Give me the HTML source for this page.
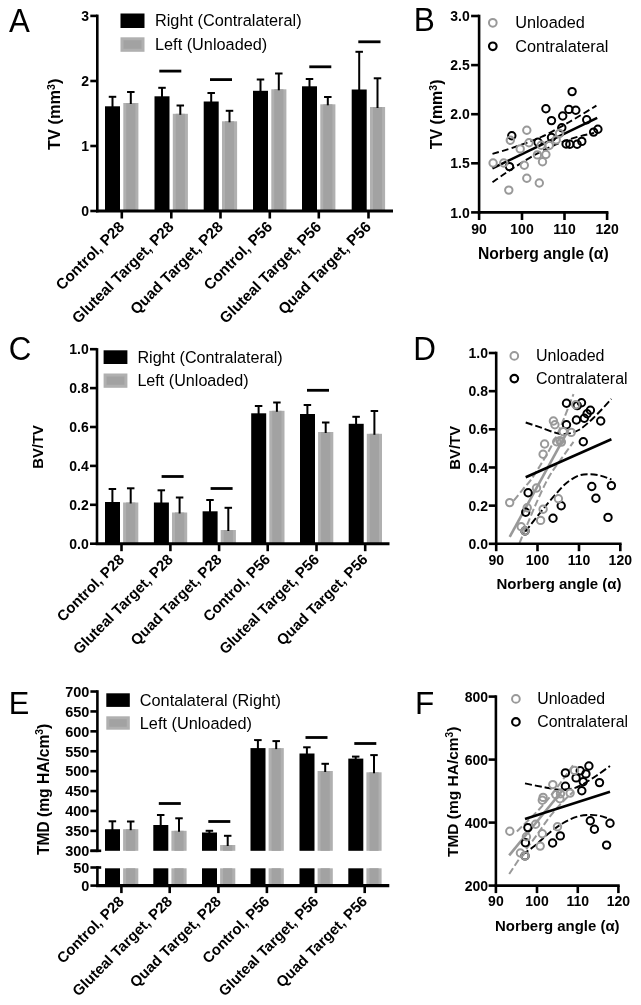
<!DOCTYPE html>
<html><head><meta charset="utf-8"><title>Figure</title>
<style>
html,body{margin:0;padding:0;background:#fff;}
body{width:641px;height:1005px;overflow:hidden;font-family:"Liberation Sans",sans-serif;}
svg{display:block;filter:grayscale(1);}
svg text{font-family:"Liberation Sans",sans-serif;fill:#000;}
</style></head>
<body>
<svg width="641" height="1005" viewBox="0 0 641 1005">
<rect x="0" y="0" width="641" height="1005" fill="#fff"/>
<text transform="matrix(0.3122 0 0 0.3285 9.04 31.50)" x="0" y="0" font-size="100" font-weight="normal">A</text>
<rect x="105.00" y="106.30" width="15.00" height="104.70" fill="#000"/>
<line x1="112.50" y1="96.80" x2="112.50" y2="107.30" stroke="#000" stroke-width="2.0" />
<line x1="108.75" y1="96.80" x2="116.25" y2="96.80" stroke="#000" stroke-width="2.0" />
<rect x="123.30" y="103.00" width="15.10" height="108.00" fill="#b0b0b0"/>
<rect x="126.30" y="103.00" width="9.10" height="108.00" fill="#a2a2a2"/>
<line x1="130.80" y1="92.00" x2="130.80" y2="104.00" stroke="#000" stroke-width="2.0" />
<line x1="127.05" y1="92.00" x2="134.55" y2="92.00" stroke="#000" stroke-width="2.0" />
<rect x="154.50" y="96.30" width="15.00" height="114.70" fill="#000"/>
<line x1="162.00" y1="87.80" x2="162.00" y2="97.30" stroke="#000" stroke-width="2.0" />
<line x1="158.25" y1="87.80" x2="165.75" y2="87.80" stroke="#000" stroke-width="2.0" />
<rect x="172.80" y="113.80" width="15.10" height="97.20" fill="#b0b0b0"/>
<rect x="175.80" y="113.80" width="9.10" height="97.20" fill="#a2a2a2"/>
<line x1="180.30" y1="105.50" x2="180.30" y2="114.80" stroke="#000" stroke-width="2.0" />
<line x1="176.55" y1="105.50" x2="184.05" y2="105.50" stroke="#000" stroke-width="2.0" />
<rect x="203.70" y="101.50" width="15.00" height="109.50" fill="#000"/>
<line x1="211.20" y1="93.00" x2="211.20" y2="102.50" stroke="#000" stroke-width="2.0" />
<line x1="207.45" y1="93.00" x2="214.95" y2="93.00" stroke="#000" stroke-width="2.0" />
<rect x="222.00" y="121.30" width="15.10" height="89.70" fill="#b0b0b0"/>
<rect x="225.00" y="121.30" width="9.10" height="89.70" fill="#a2a2a2"/>
<line x1="229.50" y1="110.80" x2="229.50" y2="122.30" stroke="#000" stroke-width="2.0" />
<line x1="225.75" y1="110.80" x2="233.25" y2="110.80" stroke="#000" stroke-width="2.0" />
<rect x="253.00" y="90.80" width="15.00" height="120.20" fill="#000"/>
<line x1="260.50" y1="79.50" x2="260.50" y2="91.80" stroke="#000" stroke-width="2.0" />
<line x1="256.75" y1="79.50" x2="264.25" y2="79.50" stroke="#000" stroke-width="2.0" />
<rect x="271.30" y="89.30" width="15.10" height="121.70" fill="#b0b0b0"/>
<rect x="274.30" y="89.30" width="9.10" height="121.70" fill="#a2a2a2"/>
<line x1="278.80" y1="73.50" x2="278.80" y2="90.30" stroke="#000" stroke-width="2.0" />
<line x1="275.05" y1="73.50" x2="282.55" y2="73.50" stroke="#000" stroke-width="2.0" />
<rect x="302.00" y="86.30" width="15.00" height="124.70" fill="#000"/>
<line x1="309.50" y1="79.00" x2="309.50" y2="87.30" stroke="#000" stroke-width="2.0" />
<line x1="305.75" y1="79.00" x2="313.25" y2="79.00" stroke="#000" stroke-width="2.0" />
<rect x="320.30" y="104.30" width="15.10" height="106.70" fill="#b0b0b0"/>
<rect x="323.30" y="104.30" width="9.10" height="106.70" fill="#a2a2a2"/>
<line x1="327.80" y1="97.00" x2="327.80" y2="105.30" stroke="#000" stroke-width="2.0" />
<line x1="324.05" y1="97.00" x2="331.55" y2="97.00" stroke="#000" stroke-width="2.0" />
<rect x="351.70" y="89.50" width="15.00" height="121.50" fill="#000"/>
<line x1="359.20" y1="51.80" x2="359.20" y2="90.50" stroke="#000" stroke-width="2.0" />
<line x1="355.45" y1="51.80" x2="362.95" y2="51.80" stroke="#000" stroke-width="2.0" />
<rect x="370.00" y="107.00" width="15.10" height="104.00" fill="#b0b0b0"/>
<rect x="373.00" y="107.00" width="9.10" height="104.00" fill="#a2a2a2"/>
<line x1="377.50" y1="78.30" x2="377.50" y2="108.00" stroke="#000" stroke-width="2.0" />
<line x1="373.75" y1="78.30" x2="381.25" y2="78.30" stroke="#000" stroke-width="2.0" />
<line x1="159.30" y1="71.10" x2="181.30" y2="71.10" stroke="#000" stroke-width="2.8" />
<line x1="210.00" y1="79.60" x2="232.00" y2="79.60" stroke="#000" stroke-width="2.8" />
<line x1="309.30" y1="66.80" x2="331.30" y2="66.80" stroke="#000" stroke-width="2.8" />
<line x1="358.30" y1="41.80" x2="380.50" y2="41.80" stroke="#000" stroke-width="2.8" />
<line x1="97.30" y1="14.60" x2="97.30" y2="212.30" stroke="#000" stroke-width="2.6" />
<line x1="96.00" y1="211.00" x2="393.00" y2="211.00" stroke="#000" stroke-width="3.1" />
<line x1="90.30" y1="211.00" x2="97.30" y2="211.00" stroke="#000" stroke-width="2.6" />
<text x="89.10" y="216.10" font-size="14" font-weight="bold" text-anchor="end" >0</text>
<line x1="90.30" y1="146.00" x2="97.30" y2="146.00" stroke="#000" stroke-width="2.6" />
<text x="89.10" y="151.10" font-size="14" font-weight="bold" text-anchor="end" >1</text>
<line x1="90.30" y1="81.00" x2="97.30" y2="81.00" stroke="#000" stroke-width="2.6" />
<text x="89.10" y="86.10" font-size="14" font-weight="bold" text-anchor="end" >2</text>
<line x1="90.30" y1="15.90" x2="97.30" y2="15.90" stroke="#000" stroke-width="2.6" />
<text x="89.10" y="21.00" font-size="14" font-weight="bold" text-anchor="end" >3</text>
<line x1="121.80" y1="211.00" x2="121.80" y2="218.50" stroke="#000" stroke-width="2.6" />
<text x="125.30" y="227.70" font-size="15.2" font-weight="bold" text-anchor="end" transform="rotate(-45 125.30 227.70)" >Control, P28</text>
<line x1="171.30" y1="211.00" x2="171.30" y2="218.50" stroke="#000" stroke-width="2.6" />
<text x="174.80" y="227.70" font-size="15.2" font-weight="bold" text-anchor="end" transform="rotate(-45 174.80 227.70)" >Gluteal Target, P28</text>
<line x1="220.50" y1="211.00" x2="220.50" y2="218.50" stroke="#000" stroke-width="2.6" />
<text x="224.00" y="227.70" font-size="15.2" font-weight="bold" text-anchor="end" transform="rotate(-45 224.00 227.70)" >Quad Target, P28</text>
<line x1="269.80" y1="211.00" x2="269.80" y2="218.50" stroke="#000" stroke-width="2.6" />
<text x="273.30" y="227.70" font-size="15.2" font-weight="bold" text-anchor="end" transform="rotate(-45 273.30 227.70)" >Control, P56</text>
<line x1="318.80" y1="211.00" x2="318.80" y2="218.50" stroke="#000" stroke-width="2.6" />
<text x="322.30" y="227.70" font-size="15.2" font-weight="bold" text-anchor="end" transform="rotate(-45 322.30 227.70)" >Gluteal Target, P56</text>
<line x1="368.50" y1="211.00" x2="368.50" y2="218.50" stroke="#000" stroke-width="2.6" />
<text x="372.00" y="227.70" font-size="15.2" font-weight="bold" text-anchor="end" transform="rotate(-45 372.00 227.70)" >Quad Target, P56</text>
<text x="60.40" y="114.30" font-size="16.4" font-weight="bold" text-anchor="middle" transform="rotate(-90 60.40 114.30)" >TV (mm<tspan font-size="10.7" dy="-5.6">3</tspan><tspan dy="5.6">)</tspan></text>
<rect x="120.50" y="13.50" width="24.00" height="14.50" fill="#000"/>
<rect x="120.50" y="37.30" width="24.00" height="14.50" fill="#b0b0b0"/>
<rect x="123.50" y="40.30" width="18.00" height="8.50" fill="#a2a2a2"/>
<text x="155.00" y="26.20" font-size="16.3" font-weight="normal" text-anchor="start" >Right (Contralateral)</text>
<text x="155.00" y="49.80" font-size="16.3" font-weight="normal" text-anchor="start" >Left (Unloaded)</text>
<text transform="matrix(0.3157 0 0 0.3270 413.81 31.40)" x="0" y="0" font-size="100" font-weight="normal">B</text>
<path d="M492.40,168.40 L597.20,117.80" fill="none" stroke="#000" stroke-width="2.6"/>
<path d="M492.50,153.80 C495.92,152.77 504.88,150.40 513.00,147.60 C521.12,144.80 531.82,141.27 541.20,137.00 C550.58,132.73 560.10,127.23 569.30,122.00 C578.50,116.77 591.88,108.33 596.40,105.60" fill="none" stroke="#000" stroke-width="1.9" stroke-dasharray="6.7 3.3"/>
<path d="M492.50,182.20 C495.92,179.87 504.88,173.33 513.00,168.20 C521.12,163.07 531.82,156.20 541.20,151.40 C550.58,146.60 560.50,142.47 569.30,139.40 C578.10,136.33 589.88,134.07 594.00,133.00" fill="none" stroke="#000" stroke-width="1.9" stroke-dasharray="6.7 3.3"/>
<circle cx="572.10" cy="91.60" r="3.7" fill="none" stroke="#000" stroke-width="2.0"/>
<circle cx="545.90" cy="108.70" r="3.7" fill="none" stroke="#000" stroke-width="2.0"/>
<circle cx="568.90" cy="109.40" r="3.7" fill="none" stroke="#000" stroke-width="2.0"/>
<circle cx="575.80" cy="110.30" r="3.7" fill="none" stroke="#000" stroke-width="2.0"/>
<circle cx="562.70" cy="116.00" r="3.7" fill="none" stroke="#000" stroke-width="2.0"/>
<circle cx="551.50" cy="120.60" r="3.7" fill="none" stroke="#000" stroke-width="2.0"/>
<circle cx="586.70" cy="119.70" r="3.7" fill="none" stroke="#000" stroke-width="2.0"/>
<circle cx="561.80" cy="127.80" r="3.7" fill="none" stroke="#000" stroke-width="2.0"/>
<circle cx="597.90" cy="129.30" r="3.7" fill="none" stroke="#000" stroke-width="2.0"/>
<circle cx="593.60" cy="132.10" r="3.7" fill="none" stroke="#000" stroke-width="2.0"/>
<circle cx="511.80" cy="135.80" r="3.7" fill="none" stroke="#000" stroke-width="2.0"/>
<circle cx="551.50" cy="137.50" r="3.7" fill="none" stroke="#000" stroke-width="2.0"/>
<circle cx="538.00" cy="142.20" r="3.7" fill="none" stroke="#000" stroke-width="2.0"/>
<circle cx="566.10" cy="144.00" r="3.7" fill="none" stroke="#000" stroke-width="2.0"/>
<circle cx="569.80" cy="144.20" r="3.7" fill="none" stroke="#000" stroke-width="2.0"/>
<circle cx="577.10" cy="144.20" r="3.7" fill="none" stroke="#000" stroke-width="2.0"/>
<circle cx="581.80" cy="141.40" r="3.7" fill="none" stroke="#000" stroke-width="2.0"/>
<circle cx="509.50" cy="166.60" r="3.7" fill="none" stroke="#000" stroke-width="2.0"/>
<circle cx="526.80" cy="130.20" r="3.7" fill="none" stroke="#999999" stroke-width="2.0"/>
<circle cx="510.30" cy="140.30" r="3.7" fill="none" stroke="#999999" stroke-width="2.0"/>
<circle cx="529.00" cy="142.70" r="3.7" fill="none" stroke="#999999" stroke-width="2.0"/>
<circle cx="559.50" cy="133.40" r="3.7" fill="none" stroke="#999999" stroke-width="2.0"/>
<circle cx="556.20" cy="139.90" r="3.7" fill="none" stroke="#999999" stroke-width="2.0"/>
<circle cx="549.20" cy="145.50" r="3.7" fill="none" stroke="#999999" stroke-width="2.0"/>
<circle cx="541.20" cy="145.20" r="3.7" fill="none" stroke="#999999" stroke-width="2.0"/>
<circle cx="520.20" cy="148.90" r="3.7" fill="none" stroke="#999999" stroke-width="2.0"/>
<circle cx="537.40" cy="154.90" r="3.7" fill="none" stroke="#999999" stroke-width="2.0"/>
<circle cx="545.90" cy="154.50" r="3.7" fill="none" stroke="#999999" stroke-width="2.0"/>
<circle cx="493.10" cy="163.00" r="3.7" fill="none" stroke="#999999" stroke-width="2.0"/>
<circle cx="524.30" cy="165.20" r="3.7" fill="none" stroke="#999999" stroke-width="2.0"/>
<circle cx="542.50" cy="161.80" r="3.7" fill="none" stroke="#999999" stroke-width="2.0"/>
<circle cx="526.80" cy="178.30" r="3.7" fill="none" stroke="#999999" stroke-width="2.0"/>
<circle cx="539.30" cy="183.00" r="3.7" fill="none" stroke="#999999" stroke-width="2.0"/>
<circle cx="508.80" cy="190.10" r="3.7" fill="none" stroke="#999999" stroke-width="2.0"/>
<circle cx="503.70" cy="163.00" r="3.7" fill="none" stroke="#999999" stroke-width="2.0"/>
<line x1="479.10" y1="14.70" x2="479.10" y2="213.70" stroke="#000" stroke-width="2.6" />
<line x1="477.80" y1="212.40" x2="608.40" y2="212.40" stroke="#000" stroke-width="2.6" />
<line x1="471.10" y1="212.40" x2="479.10" y2="212.40" stroke="#000" stroke-width="2.6" />
<text x="469.80" y="217.50" font-size="14" font-weight="bold" text-anchor="end" >1.0</text>
<line x1="471.10" y1="163.30" x2="479.10" y2="163.30" stroke="#000" stroke-width="2.6" />
<text x="469.80" y="168.40" font-size="14" font-weight="bold" text-anchor="end" >1.5</text>
<line x1="471.10" y1="114.20" x2="479.10" y2="114.20" stroke="#000" stroke-width="2.6" />
<text x="469.80" y="119.30" font-size="14" font-weight="bold" text-anchor="end" >2.0</text>
<line x1="471.10" y1="65.10" x2="479.10" y2="65.10" stroke="#000" stroke-width="2.6" />
<text x="469.80" y="70.20" font-size="14" font-weight="bold" text-anchor="end" >2.5</text>
<line x1="471.10" y1="16.00" x2="479.10" y2="16.00" stroke="#000" stroke-width="2.6" />
<text x="469.80" y="21.10" font-size="14" font-weight="bold" text-anchor="end" >3.0</text>
<line x1="479.10" y1="212.40" x2="479.10" y2="220.00" stroke="#000" stroke-width="2.6" />
<text x="479.10" y="233.80" font-size="14" font-weight="bold" text-anchor="middle" >90</text>
<line x1="522.00" y1="212.40" x2="522.00" y2="220.00" stroke="#000" stroke-width="2.6" />
<text x="522.00" y="233.80" font-size="14" font-weight="bold" text-anchor="middle" >100</text>
<line x1="564.50" y1="212.40" x2="564.50" y2="220.00" stroke="#000" stroke-width="2.6" />
<text x="564.50" y="233.80" font-size="14" font-weight="bold" text-anchor="middle" >110</text>
<line x1="607.10" y1="212.40" x2="607.10" y2="220.00" stroke="#000" stroke-width="2.6" />
<text x="607.10" y="233.80" font-size="14" font-weight="bold" text-anchor="middle" >120</text>
<text x="543.30" y="259.40" font-size="15.7" font-weight="bold" text-anchor="middle" >Norberg angle (α)</text>
<text x="442.30" y="114.40" font-size="16" font-weight="bold" text-anchor="middle" transform="rotate(-90 442.30 114.40)" >TV (mm<tspan font-size="10.5" dy="-5.5">3</tspan><tspan dy="5.5">)</tspan></text>
<circle cx="492.80" cy="22.80" r="3.85" fill="none" stroke="#999999" stroke-width="2.0"/>
<circle cx="492.80" cy="46.30" r="3.8" fill="none" stroke="#000" stroke-width="2.15"/>
<text x="515.20" y="28.40" font-size="16.3" font-weight="normal" text-anchor="start" >Unloaded</text>
<text x="515.20" y="52.00" font-size="16.3" font-weight="normal" text-anchor="start" >Contralateral</text>
<text transform="matrix(0.3126 0 0 0.3249 8.71 359.68)" x="0" y="0" font-size="100" font-weight="normal">C</text>
<rect x="105.00" y="502.00" width="15.00" height="41.70" fill="#000"/>
<line x1="112.40" y1="489.00" x2="112.40" y2="503.00" stroke="#000" stroke-width="2.0" />
<line x1="108.65" y1="489.00" x2="116.15" y2="489.00" stroke="#000" stroke-width="2.0" />
<rect x="123.10" y="502.50" width="15.20" height="41.20" fill="#b0b0b0"/>
<rect x="126.10" y="502.50" width="9.20" height="41.20" fill="#a2a2a2"/>
<line x1="130.70" y1="488.30" x2="130.70" y2="503.50" stroke="#000" stroke-width="2.0" />
<line x1="126.95" y1="488.30" x2="134.45" y2="488.30" stroke="#000" stroke-width="2.0" />
<rect x="153.90" y="502.50" width="15.00" height="41.20" fill="#000"/>
<line x1="161.30" y1="490.30" x2="161.30" y2="503.50" stroke="#000" stroke-width="2.0" />
<line x1="157.55" y1="490.30" x2="165.05" y2="490.30" stroke="#000" stroke-width="2.0" />
<rect x="172.00" y="512.50" width="15.20" height="31.20" fill="#b0b0b0"/>
<rect x="175.00" y="512.50" width="9.20" height="31.20" fill="#a2a2a2"/>
<line x1="179.60" y1="497.50" x2="179.60" y2="513.50" stroke="#000" stroke-width="2.0" />
<line x1="175.85" y1="497.50" x2="183.35" y2="497.50" stroke="#000" stroke-width="2.0" />
<rect x="202.60" y="511.30" width="15.00" height="32.40" fill="#000"/>
<line x1="210.00" y1="500.00" x2="210.00" y2="512.30" stroke="#000" stroke-width="2.0" />
<line x1="206.25" y1="500.00" x2="213.75" y2="500.00" stroke="#000" stroke-width="2.0" />
<rect x="220.70" y="530.00" width="15.20" height="13.70" fill="#b0b0b0"/>
<rect x="223.70" y="530.00" width="9.20" height="13.70" fill="#a2a2a2"/>
<line x1="228.30" y1="507.80" x2="228.30" y2="531.00" stroke="#000" stroke-width="2.0" />
<line x1="224.55" y1="507.80" x2="232.05" y2="507.80" stroke="#000" stroke-width="2.0" />
<rect x="251.20" y="413.30" width="15.00" height="130.40" fill="#000"/>
<line x1="258.60" y1="406.00" x2="258.60" y2="414.30" stroke="#000" stroke-width="2.0" />
<line x1="254.85" y1="406.00" x2="262.35" y2="406.00" stroke="#000" stroke-width="2.0" />
<rect x="269.30" y="410.80" width="15.20" height="132.90" fill="#b0b0b0"/>
<rect x="272.30" y="410.80" width="9.20" height="132.90" fill="#a2a2a2"/>
<line x1="276.90" y1="402.50" x2="276.90" y2="411.80" stroke="#000" stroke-width="2.0" />
<line x1="273.15" y1="402.50" x2="280.65" y2="402.50" stroke="#000" stroke-width="2.0" />
<rect x="300.00" y="414.00" width="15.00" height="129.70" fill="#000"/>
<line x1="307.40" y1="405.00" x2="307.40" y2="415.00" stroke="#000" stroke-width="2.0" />
<line x1="303.65" y1="405.00" x2="311.15" y2="405.00" stroke="#000" stroke-width="2.0" />
<rect x="318.10" y="432.00" width="15.20" height="111.70" fill="#b0b0b0"/>
<rect x="321.10" y="432.00" width="9.20" height="111.70" fill="#a2a2a2"/>
<line x1="325.70" y1="422.50" x2="325.70" y2="433.00" stroke="#000" stroke-width="2.0" />
<line x1="321.95" y1="422.50" x2="329.45" y2="422.50" stroke="#000" stroke-width="2.0" />
<rect x="348.70" y="423.80" width="15.00" height="119.90" fill="#000"/>
<line x1="356.10" y1="416.80" x2="356.10" y2="424.80" stroke="#000" stroke-width="2.0" />
<line x1="352.35" y1="416.80" x2="359.85" y2="416.80" stroke="#000" stroke-width="2.0" />
<rect x="366.80" y="433.80" width="15.20" height="109.90" fill="#b0b0b0"/>
<rect x="369.80" y="433.80" width="9.20" height="109.90" fill="#a2a2a2"/>
<line x1="374.40" y1="411.00" x2="374.40" y2="434.80" stroke="#000" stroke-width="2.0" />
<line x1="370.65" y1="411.00" x2="378.15" y2="411.00" stroke="#000" stroke-width="2.0" />
<line x1="161.60" y1="476.50" x2="183.60" y2="476.50" stroke="#000" stroke-width="2.8" />
<line x1="210.60" y1="488.50" x2="232.60" y2="488.50" stroke="#000" stroke-width="2.8" />
<line x1="307.00" y1="390.30" x2="329.00" y2="390.30" stroke="#000" stroke-width="2.8" />
<line x1="97.00" y1="348.10" x2="97.00" y2="545.00" stroke="#000" stroke-width="2.6" />
<line x1="95.70" y1="543.70" x2="389.50" y2="543.70" stroke="#000" stroke-width="3.1" />
<line x1="90.00" y1="543.70" x2="97.00" y2="543.70" stroke="#000" stroke-width="2.6" />
<text x="88.80" y="548.80" font-size="14" font-weight="bold" text-anchor="end" >0.0</text>
<line x1="90.00" y1="504.80" x2="97.00" y2="504.80" stroke="#000" stroke-width="2.6" />
<text x="88.80" y="509.90" font-size="14" font-weight="bold" text-anchor="end" >0.2</text>
<line x1="90.00" y1="465.90" x2="97.00" y2="465.90" stroke="#000" stroke-width="2.6" />
<text x="88.80" y="471.00" font-size="14" font-weight="bold" text-anchor="end" >0.4</text>
<line x1="90.00" y1="427.00" x2="97.00" y2="427.00" stroke="#000" stroke-width="2.6" />
<text x="88.80" y="432.10" font-size="14" font-weight="bold" text-anchor="end" >0.6</text>
<line x1="90.00" y1="388.10" x2="97.00" y2="388.10" stroke="#000" stroke-width="2.6" />
<text x="88.80" y="393.20" font-size="14" font-weight="bold" text-anchor="end" >0.8</text>
<line x1="90.00" y1="349.20" x2="97.00" y2="349.20" stroke="#000" stroke-width="2.6" />
<text x="88.80" y="354.30" font-size="14" font-weight="bold" text-anchor="end" >1.0</text>
<line x1="121.50" y1="543.70" x2="121.50" y2="551.20" stroke="#000" stroke-width="2.6" />
<text x="125.00" y="560.40" font-size="14.9" font-weight="bold" text-anchor="end" transform="rotate(-45 125.00 560.40)" >Control, P28</text>
<line x1="170.40" y1="543.70" x2="170.40" y2="551.20" stroke="#000" stroke-width="2.6" />
<text x="173.90" y="560.40" font-size="14.9" font-weight="bold" text-anchor="end" transform="rotate(-45 173.90 560.40)" >Gluteal Target, P28</text>
<line x1="219.10" y1="543.70" x2="219.10" y2="551.20" stroke="#000" stroke-width="2.6" />
<text x="222.60" y="560.40" font-size="14.9" font-weight="bold" text-anchor="end" transform="rotate(-45 222.60 560.40)" >Quad Target, P28</text>
<line x1="267.70" y1="543.70" x2="267.70" y2="551.20" stroke="#000" stroke-width="2.6" />
<text x="271.20" y="560.40" font-size="14.9" font-weight="bold" text-anchor="end" transform="rotate(-45 271.20 560.40)" >Control, P56</text>
<line x1="316.50" y1="543.70" x2="316.50" y2="551.20" stroke="#000" stroke-width="2.6" />
<text x="320.00" y="560.40" font-size="14.9" font-weight="bold" text-anchor="end" transform="rotate(-45 320.00 560.40)" >Gluteal Target, P56</text>
<line x1="365.20" y1="543.70" x2="365.20" y2="551.20" stroke="#000" stroke-width="2.6" />
<text x="368.70" y="560.40" font-size="14.9" font-weight="bold" text-anchor="end" transform="rotate(-45 368.70 560.40)" >Quad Target, P56</text>
<text x="42.70" y="446.90" font-size="14.8" font-weight="bold" text-anchor="middle" transform="rotate(-90 42.70 446.90)" >BV/TV</text>
<rect x="103.60" y="350.30" width="23.80" height="13.70" fill="#000"/>
<rect x="103.60" y="373.50" width="23.80" height="14.30" fill="#b0b0b0"/>
<rect x="106.60" y="376.50" width="17.80" height="8.30" fill="#a2a2a2"/>
<text x="137.40" y="363.20" font-size="16.15" font-weight="normal" text-anchor="start" >Right (Contralateral)</text>
<text x="137.40" y="386.40" font-size="16.15" font-weight="normal" text-anchor="start" >Left (Unloaded)</text>
<text transform="matrix(0.3140 0 0 0.3270 413.32 359.80)" x="0" y="0" font-size="100" font-weight="normal">D</text>
<path d="M509.70,536.80 L568.00,430.70" fill="none" stroke="#999999" stroke-width="2.6"/>
<path d="M513.80,500.60 C515.32,498.73 520.05,492.87 522.90,489.40 C525.75,485.93 528.02,483.78 530.90,479.80 C533.78,475.82 537.13,470.47 540.20,465.50 C543.27,460.53 546.47,455.15 549.30,450.00 C552.13,444.85 554.68,440.02 557.20,434.60 C559.72,429.18 561.68,424.25 564.40,417.50 C567.12,410.75 571.98,398.00 573.50,394.10" fill="none" stroke="#999999" stroke-width="2.0" stroke-dasharray="7.1 2.9"/>
<path d="M519.50,543.20 C519.82,542.42 520.05,541.75 521.40,538.50 C522.75,535.25 525.13,529.55 527.60,523.70 C530.07,517.85 533.20,510.17 536.20,503.40 C539.20,496.63 542.80,488.60 545.60,483.10 C548.40,477.60 550.43,474.38 553.00,470.40 C555.57,466.42 557.58,463.97 561.00,459.20 C564.42,454.43 571.42,444.70 573.50,441.80" fill="none" stroke="#999999" stroke-width="2.0" stroke-dasharray="7.1 2.9"/>
<path d="M525.70,477.30 L611.40,439.30" fill="none" stroke="#000" stroke-width="2.6"/>
<path d="M525.70,422.50 C528.28,423.37 536.12,425.95 541.20,427.70 C546.28,429.45 552.15,431.95 556.20,433.00 C560.25,434.05 561.75,434.50 565.50,434.00 C569.25,433.50 574.02,432.70 578.70,430.00 C583.38,427.30 588.15,422.97 593.60,417.80 C599.05,412.63 608.43,402.13 611.40,399.00" fill="none" stroke="#000" stroke-width="1.9" stroke-dasharray="7.1 2.9"/>
<path d="M525.30,531.60 C528.57,527.47 539.55,513.33 544.90,506.80 C550.25,500.27 553.80,496.37 557.40,492.40 C561.00,488.43 562.95,485.80 566.50,483.00 C570.05,480.20 574.80,477.05 578.70,475.60 C582.60,474.15 586.17,474.27 589.90,474.30 C593.63,474.33 597.52,474.92 601.10,475.80 C604.68,476.68 609.68,478.97 611.40,479.60" fill="none" stroke="#000" stroke-width="1.9" stroke-dasharray="7.1 2.9"/>
<circle cx="566.50" cy="403.20" r="3.7" fill="none" stroke="#000" stroke-width="2.0"/>
<circle cx="581.50" cy="402.80" r="3.7" fill="none" stroke="#000" stroke-width="2.0"/>
<circle cx="577.20" cy="405.60" r="3.7" fill="none" stroke="#000" stroke-width="2.0"/>
<circle cx="590.40" cy="410.30" r="3.7" fill="none" stroke="#000" stroke-width="2.0"/>
<circle cx="587.10" cy="413.70" r="3.7" fill="none" stroke="#000" stroke-width="2.0"/>
<circle cx="584.30" cy="418.30" r="3.7" fill="none" stroke="#000" stroke-width="2.0"/>
<circle cx="576.40" cy="420.00" r="3.7" fill="none" stroke="#000" stroke-width="2.0"/>
<circle cx="600.70" cy="421.00" r="3.7" fill="none" stroke="#000" stroke-width="2.0"/>
<circle cx="566.50" cy="424.70" r="3.7" fill="none" stroke="#000" stroke-width="2.0"/>
<circle cx="583.30" cy="441.70" r="3.7" fill="none" stroke="#000" stroke-width="2.0"/>
<circle cx="528.10" cy="492.70" r="3.7" fill="none" stroke="#000" stroke-width="2.0"/>
<circle cx="591.80" cy="486.50" r="3.7" fill="none" stroke="#000" stroke-width="2.0"/>
<circle cx="611.40" cy="485.60" r="3.7" fill="none" stroke="#000" stroke-width="2.0"/>
<circle cx="595.90" cy="498.30" r="3.7" fill="none" stroke="#000" stroke-width="2.0"/>
<circle cx="561.20" cy="505.80" r="3.7" fill="none" stroke="#000" stroke-width="2.0"/>
<circle cx="525.70" cy="512.30" r="3.7" fill="none" stroke="#000" stroke-width="2.0"/>
<circle cx="553.00" cy="518.30" r="3.7" fill="none" stroke="#000" stroke-width="2.0"/>
<circle cx="608.00" cy="517.40" r="3.7" fill="none" stroke="#000" stroke-width="2.0"/>
<circle cx="525.00" cy="531.00" r="3.7" fill="none" stroke="#000" stroke-width="2.0"/>
<circle cx="575.80" cy="404.70" r="3.7" fill="none" stroke="#999999" stroke-width="2.0"/>
<circle cx="553.40" cy="421.00" r="3.7" fill="none" stroke="#999999" stroke-width="2.0"/>
<circle cx="554.90" cy="424.70" r="3.7" fill="none" stroke="#999999" stroke-width="2.0"/>
<circle cx="571.20" cy="432.40" r="3.7" fill="none" stroke="#999999" stroke-width="2.0"/>
<circle cx="563.30" cy="431.80" r="3.7" fill="none" stroke="#999999" stroke-width="2.0"/>
<circle cx="544.60" cy="444.00" r="3.7" fill="none" stroke="#999999" stroke-width="2.0"/>
<circle cx="556.70" cy="441.70" r="3.7" fill="none" stroke="#999999" stroke-width="2.0"/>
<circle cx="559.90" cy="440.60" r="3.7" fill="none" stroke="#999999" stroke-width="2.0"/>
<circle cx="561.40" cy="442.10" r="3.7" fill="none" stroke="#999999" stroke-width="2.0"/>
<circle cx="543.10" cy="454.30" r="3.7" fill="none" stroke="#999999" stroke-width="2.0"/>
<circle cx="536.50" cy="488.00" r="3.7" fill="none" stroke="#999999" stroke-width="2.0"/>
<circle cx="509.70" cy="502.60" r="3.7" fill="none" stroke="#999999" stroke-width="2.0"/>
<circle cx="527.20" cy="507.70" r="3.7" fill="none" stroke="#999999" stroke-width="2.0"/>
<circle cx="558.40" cy="498.70" r="3.7" fill="none" stroke="#999999" stroke-width="2.0"/>
<circle cx="543.10" cy="509.20" r="3.7" fill="none" stroke="#999999" stroke-width="2.0"/>
<circle cx="540.60" cy="520.40" r="3.7" fill="none" stroke="#999999" stroke-width="2.0"/>
<circle cx="521.20" cy="526.80" r="3.7" fill="none" stroke="#999999" stroke-width="2.0"/>
<circle cx="525.00" cy="531.00" r="3.7" fill="none" stroke="#999999" stroke-width="2.0"/>
<line x1="496.20" y1="351.70" x2="496.20" y2="545.10" stroke="#000" stroke-width="2.6" />
<line x1="494.90" y1="543.80" x2="621.60" y2="543.80" stroke="#000" stroke-width="2.6" />
<line x1="488.80" y1="543.80" x2="496.20" y2="543.80" stroke="#000" stroke-width="2.6" />
<text x="488.00" y="548.90" font-size="14" font-weight="bold" text-anchor="end" >0.0</text>
<line x1="488.80" y1="505.64" x2="496.20" y2="505.64" stroke="#000" stroke-width="2.6" />
<text x="488.00" y="510.74" font-size="14" font-weight="bold" text-anchor="end" >0.2</text>
<line x1="488.80" y1="467.48" x2="496.20" y2="467.48" stroke="#000" stroke-width="2.6" />
<text x="488.00" y="472.58" font-size="14" font-weight="bold" text-anchor="end" >0.4</text>
<line x1="488.80" y1="429.32" x2="496.20" y2="429.32" stroke="#000" stroke-width="2.6" />
<text x="488.00" y="434.42" font-size="14" font-weight="bold" text-anchor="end" >0.6</text>
<line x1="488.80" y1="391.16" x2="496.20" y2="391.16" stroke="#000" stroke-width="2.6" />
<text x="488.00" y="396.26" font-size="14" font-weight="bold" text-anchor="end" >0.8</text>
<line x1="488.80" y1="353.00" x2="496.20" y2="353.00" stroke="#000" stroke-width="2.6" />
<text x="488.00" y="358.10" font-size="14" font-weight="bold" text-anchor="end" >1.0</text>
<line x1="496.20" y1="543.80" x2="496.20" y2="551.20" stroke="#000" stroke-width="2.6" />
<text x="496.20" y="565.20" font-size="14" font-weight="bold" text-anchor="middle" >90</text>
<line x1="537.50" y1="543.80" x2="537.50" y2="551.20" stroke="#000" stroke-width="2.6" />
<text x="537.50" y="565.20" font-size="14" font-weight="bold" text-anchor="middle" >100</text>
<line x1="579.00" y1="543.80" x2="579.00" y2="551.20" stroke="#000" stroke-width="2.6" />
<text x="579.00" y="565.20" font-size="14" font-weight="bold" text-anchor="middle" >110</text>
<line x1="620.30" y1="543.80" x2="620.30" y2="551.20" stroke="#000" stroke-width="2.6" />
<text x="620.30" y="565.20" font-size="14" font-weight="bold" text-anchor="middle" >120</text>
<text x="559.00" y="589.00" font-size="15.0" font-weight="bold" text-anchor="middle" >Norberg angle (α)</text>
<text x="459.70" y="447.80" font-size="14.9" font-weight="bold" text-anchor="middle" transform="rotate(-90 459.70 447.80)" >BV/TV</text>
<circle cx="514.30" cy="355.90" r="3.85" fill="none" stroke="#999999" stroke-width="2.0"/>
<circle cx="514.30" cy="378.60" r="3.8" fill="none" stroke="#000" stroke-width="2.15"/>
<text x="536.00" y="361.20" font-size="16.0" font-weight="normal" text-anchor="start" >Unloaded</text>
<text x="536.00" y="384.20" font-size="16.0" font-weight="normal" text-anchor="start" >Contralateral</text>
<text transform="matrix(0.3081 0 0 0.3227 8.87 714.30)" x="0" y="0" font-size="100" font-weight="normal">E</text>
<rect x="105.00" y="829.20" width="15.00" height="21.60" fill="#000"/>
<rect x="105.00" y="868.30" width="15.00" height="17.30" fill="#000"/>
<line x1="112.40" y1="821.30" x2="112.40" y2="830.20" stroke="#000" stroke-width="2.0" />
<line x1="108.65" y1="821.30" x2="116.15" y2="821.30" stroke="#000" stroke-width="2.0" />
<rect x="123.10" y="829.20" width="15.20" height="21.60" fill="#b0b0b0"/>
<rect x="126.10" y="829.20" width="9.20" height="21.60" fill="#a2a2a2"/>
<rect x="123.10" y="868.30" width="15.20" height="17.30" fill="#b0b0b0"/>
<rect x="126.10" y="868.30" width="9.20" height="17.30" fill="#a2a2a2"/>
<line x1="130.70" y1="821.50" x2="130.70" y2="830.20" stroke="#000" stroke-width="2.0" />
<line x1="126.95" y1="821.50" x2="134.45" y2="821.50" stroke="#000" stroke-width="2.0" />
<rect x="153.30" y="825.00" width="15.00" height="25.80" fill="#000"/>
<rect x="153.30" y="868.30" width="15.00" height="17.30" fill="#000"/>
<line x1="160.70" y1="815.00" x2="160.70" y2="826.00" stroke="#000" stroke-width="2.0" />
<line x1="156.95" y1="815.00" x2="164.45" y2="815.00" stroke="#000" stroke-width="2.0" />
<rect x="171.40" y="830.80" width="15.20" height="20.00" fill="#b0b0b0"/>
<rect x="174.40" y="830.80" width="9.20" height="20.00" fill="#a2a2a2"/>
<rect x="171.40" y="868.30" width="15.20" height="17.30" fill="#b0b0b0"/>
<rect x="174.40" y="868.30" width="9.20" height="17.30" fill="#a2a2a2"/>
<line x1="179.00" y1="818.30" x2="179.00" y2="831.80" stroke="#000" stroke-width="2.0" />
<line x1="175.25" y1="818.30" x2="182.75" y2="818.30" stroke="#000" stroke-width="2.0" />
<rect x="202.00" y="832.50" width="15.00" height="18.30" fill="#000"/>
<rect x="202.00" y="868.30" width="15.00" height="17.30" fill="#000"/>
<line x1="209.40" y1="830.80" x2="209.40" y2="833.50" stroke="#000" stroke-width="2.0" />
<line x1="205.65" y1="830.80" x2="213.15" y2="830.80" stroke="#000" stroke-width="2.0" />
<rect x="220.10" y="845.00" width="15.20" height="5.80" fill="#b0b0b0"/>
<rect x="223.10" y="845.00" width="9.20" height="5.80" fill="#a2a2a2"/>
<rect x="220.10" y="868.30" width="15.20" height="17.30" fill="#b0b0b0"/>
<rect x="223.10" y="868.30" width="9.20" height="17.30" fill="#a2a2a2"/>
<line x1="227.70" y1="835.80" x2="227.70" y2="846.00" stroke="#000" stroke-width="2.0" />
<line x1="223.95" y1="835.80" x2="231.45" y2="835.80" stroke="#000" stroke-width="2.0" />
<rect x="250.50" y="748.10" width="15.00" height="102.70" fill="#000"/>
<rect x="250.50" y="868.30" width="15.00" height="17.30" fill="#000"/>
<line x1="257.90" y1="740.10" x2="257.90" y2="749.10" stroke="#000" stroke-width="2.0" />
<line x1="254.15" y1="740.10" x2="261.65" y2="740.10" stroke="#000" stroke-width="2.0" />
<rect x="268.60" y="748.10" width="15.20" height="102.70" fill="#b0b0b0"/>
<rect x="271.60" y="748.10" width="9.20" height="102.70" fill="#a2a2a2"/>
<rect x="268.60" y="868.30" width="15.20" height="17.30" fill="#b0b0b0"/>
<rect x="271.60" y="868.30" width="9.20" height="17.30" fill="#a2a2a2"/>
<line x1="276.20" y1="741.10" x2="276.20" y2="749.10" stroke="#000" stroke-width="2.0" />
<line x1="272.45" y1="741.10" x2="279.95" y2="741.10" stroke="#000" stroke-width="2.0" />
<rect x="299.50" y="753.50" width="15.00" height="97.30" fill="#000"/>
<rect x="299.50" y="868.30" width="15.00" height="17.30" fill="#000"/>
<line x1="306.90" y1="747.30" x2="306.90" y2="754.50" stroke="#000" stroke-width="2.0" />
<line x1="303.15" y1="747.30" x2="310.65" y2="747.30" stroke="#000" stroke-width="2.0" />
<rect x="317.60" y="771.00" width="15.20" height="79.80" fill="#b0b0b0"/>
<rect x="320.60" y="771.00" width="9.20" height="79.80" fill="#a2a2a2"/>
<rect x="317.60" y="868.30" width="15.20" height="17.30" fill="#b0b0b0"/>
<rect x="320.60" y="868.30" width="9.20" height="17.30" fill="#a2a2a2"/>
<line x1="325.20" y1="763.80" x2="325.20" y2="772.00" stroke="#000" stroke-width="2.0" />
<line x1="321.45" y1="763.80" x2="328.95" y2="763.80" stroke="#000" stroke-width="2.0" />
<rect x="348.30" y="758.60" width="15.00" height="92.20" fill="#000"/>
<rect x="348.30" y="868.30" width="15.00" height="17.30" fill="#000"/>
<line x1="355.70" y1="756.60" x2="355.70" y2="759.60" stroke="#000" stroke-width="2.0" />
<line x1="351.95" y1="756.60" x2="359.45" y2="756.60" stroke="#000" stroke-width="2.0" />
<rect x="366.40" y="772.30" width="15.20" height="78.50" fill="#b0b0b0"/>
<rect x="369.40" y="772.30" width="9.20" height="78.50" fill="#a2a2a2"/>
<rect x="366.40" y="868.30" width="15.20" height="17.30" fill="#b0b0b0"/>
<rect x="369.40" y="868.30" width="9.20" height="17.30" fill="#a2a2a2"/>
<line x1="374.00" y1="755.10" x2="374.00" y2="773.30" stroke="#000" stroke-width="2.0" />
<line x1="370.25" y1="755.10" x2="377.75" y2="755.10" stroke="#000" stroke-width="2.0" />
<line x1="158.80" y1="803.50" x2="180.80" y2="803.50" stroke="#000" stroke-width="2.8" />
<line x1="208.30" y1="821.50" x2="230.30" y2="821.50" stroke="#000" stroke-width="2.8" />
<line x1="305.50" y1="737.50" x2="327.50" y2="737.50" stroke="#000" stroke-width="2.8" />
<line x1="354.30" y1="743.50" x2="376.30" y2="743.50" stroke="#000" stroke-width="2.8" />
<line x1="97.40" y1="690.20" x2="97.40" y2="852.10" stroke="#000" stroke-width="2.6" />
<line x1="90.40" y1="850.80" x2="101.20" y2="850.80" stroke="#000" stroke-width="2.6" />
<line x1="97.40" y1="866.20" x2="97.40" y2="886.90" stroke="#000" stroke-width="2.6" />
<line x1="90.40" y1="867.50" x2="101.20" y2="867.50" stroke="#000" stroke-width="2.6" />
<line x1="96.10" y1="885.60" x2="389.30" y2="885.60" stroke="#000" stroke-width="3.1" />
<line x1="90.40" y1="850.80" x2="97.40" y2="850.80" stroke="#000" stroke-width="2.6" />
<text x="89.40" y="856.05" font-size="14.5" font-weight="bold" text-anchor="end" >300</text>
<line x1="90.40" y1="830.89" x2="97.40" y2="830.89" stroke="#000" stroke-width="2.6" />
<text x="89.40" y="836.14" font-size="14.5" font-weight="bold" text-anchor="end" >350</text>
<line x1="90.40" y1="810.98" x2="97.40" y2="810.98" stroke="#000" stroke-width="2.6" />
<text x="89.40" y="816.23" font-size="14.5" font-weight="bold" text-anchor="end" >400</text>
<line x1="90.40" y1="791.07" x2="97.40" y2="791.07" stroke="#000" stroke-width="2.6" />
<text x="89.40" y="796.32" font-size="14.5" font-weight="bold" text-anchor="end" >450</text>
<line x1="90.40" y1="771.16" x2="97.40" y2="771.16" stroke="#000" stroke-width="2.6" />
<text x="89.40" y="776.41" font-size="14.5" font-weight="bold" text-anchor="end" >500</text>
<line x1="90.40" y1="751.25" x2="97.40" y2="751.25" stroke="#000" stroke-width="2.6" />
<text x="89.40" y="756.50" font-size="14.5" font-weight="bold" text-anchor="end" >550</text>
<line x1="90.40" y1="731.34" x2="97.40" y2="731.34" stroke="#000" stroke-width="2.6" />
<text x="89.40" y="736.59" font-size="14.5" font-weight="bold" text-anchor="end" >600</text>
<line x1="90.40" y1="711.43" x2="97.40" y2="711.43" stroke="#000" stroke-width="2.6" />
<text x="89.40" y="716.68" font-size="14.5" font-weight="bold" text-anchor="end" >650</text>
<line x1="90.40" y1="691.52" x2="97.40" y2="691.52" stroke="#000" stroke-width="2.6" />
<text x="89.40" y="696.77" font-size="14.5" font-weight="bold" text-anchor="end" >700</text>
<line x1="90.40" y1="885.60" x2="97.40" y2="885.60" stroke="#000" stroke-width="2.6" />
<text x="89.40" y="890.85" font-size="14.5" font-weight="bold" text-anchor="end" >0</text>
<text x="89.40" y="872.75" font-size="14.5" font-weight="bold" text-anchor="end" >50</text>
<line x1="121.40" y1="885.60" x2="121.40" y2="893.10" stroke="#000" stroke-width="2.6" />
<text x="124.90" y="902.30" font-size="14.9" font-weight="bold" text-anchor="end" transform="rotate(-45 124.90 902.30)" >Control, P28</text>
<line x1="169.70" y1="885.60" x2="169.70" y2="893.10" stroke="#000" stroke-width="2.6" />
<text x="173.20" y="902.30" font-size="14.9" font-weight="bold" text-anchor="end" transform="rotate(-45 173.20 902.30)" >Gluteal Target, P28</text>
<line x1="218.40" y1="885.60" x2="218.40" y2="893.10" stroke="#000" stroke-width="2.6" />
<text x="221.90" y="902.30" font-size="14.9" font-weight="bold" text-anchor="end" transform="rotate(-45 221.90 902.30)" >Quad Target, P28</text>
<line x1="266.90" y1="885.60" x2="266.90" y2="893.10" stroke="#000" stroke-width="2.6" />
<text x="270.40" y="902.30" font-size="14.9" font-weight="bold" text-anchor="end" transform="rotate(-45 270.40 902.30)" >Control, P56</text>
<line x1="315.90" y1="885.60" x2="315.90" y2="893.10" stroke="#000" stroke-width="2.6" />
<text x="319.40" y="902.30" font-size="14.9" font-weight="bold" text-anchor="end" transform="rotate(-45 319.40 902.30)" >Gluteal Target, P56</text>
<line x1="364.70" y1="885.60" x2="364.70" y2="893.10" stroke="#000" stroke-width="2.6" />
<text x="368.20" y="902.30" font-size="14.9" font-weight="bold" text-anchor="end" transform="rotate(-45 368.20 902.30)" >Quad Target, P56</text>
<text x="48.60" y="789.40" font-size="15.6" font-weight="bold" text-anchor="middle" transform="rotate(-90 48.60 789.40)" >TMD (mg HA/cm<tspan font-size="10.3" dy="-5.4">3</tspan><tspan dy="5.4">)</tspan></text>
<rect x="106.30" y="693.30" width="23.50" height="13.60" fill="#000"/>
<rect x="106.30" y="716.30" width="23.50" height="13.40" fill="#b0b0b0"/>
<rect x="109.30" y="719.30" width="17.50" height="7.40" fill="#a2a2a2"/>
<text x="139.80" y="705.70" font-size="16.3" font-weight="normal" text-anchor="start" >Contalateral (Right)</text>
<text x="139.80" y="728.70" font-size="16.3" font-weight="normal" text-anchor="start" >Left (Unloaded)</text>
<text transform="matrix(0.3151 0 0 0.3227 415.02 714.30)" x="0" y="0" font-size="100" font-weight="normal">F</text>
<path d="M509.20,855.40 L562.60,790.30" fill="none" stroke="#999999" stroke-width="2.6"/>
<path d="M516.90,831.50 C521.10,827.28 534.92,814.20 542.10,806.20 C549.28,798.20 554.85,790.30 560.00,783.50 C565.15,776.70 570.83,768.42 573.00,765.40" fill="none" stroke="#999999" stroke-width="2.0" stroke-dasharray="7.1 2.9"/>
<path d="M509.20,874.00 C511.48,870.60 518.43,859.90 522.90,853.60 C527.37,847.30 531.63,842.20 536.00,836.20 C540.37,830.20 544.90,823.07 549.10,817.60 C553.30,812.13 557.13,807.75 561.20,803.40 C565.27,799.05 571.45,793.48 573.50,791.50" fill="none" stroke="#999999" stroke-width="2.0" stroke-dasharray="7.1 2.9"/>
<path d="M525.00,819.10 L610.00,791.70" fill="none" stroke="#000" stroke-width="2.6"/>
<path d="M525.00,783.40 C527.85,783.97 536.43,785.77 542.10,786.80 C547.77,787.83 553.85,789.33 559.00,789.60 C564.15,789.87 569.13,789.23 573.00,788.40 C576.87,787.57 578.37,786.67 582.20,784.60 C586.03,782.53 591.37,779.10 596.00,776.00 C600.63,772.90 607.67,767.67 610.00,766.00" fill="none" stroke="#000" stroke-width="1.9" stroke-dasharray="7.1 2.9"/>
<path d="M522.50,854.60 C524.60,853.08 530.65,849.12 535.10,845.50 C539.55,841.88 544.52,836.65 549.20,832.90 C553.88,829.15 558.53,825.70 563.20,823.00 C567.87,820.30 572.73,818.05 577.20,816.70 C581.67,815.35 586.20,815.03 590.00,814.90 C593.80,814.77 596.67,815.20 600.00,815.90 C603.33,816.60 608.33,818.57 610.00,819.10" fill="none" stroke="#000" stroke-width="1.9" stroke-dasharray="7.1 2.9"/>
<circle cx="588.90" cy="766.00" r="3.7" fill="none" stroke="#000" stroke-width="2.0"/>
<circle cx="565.40" cy="772.90" r="3.7" fill="none" stroke="#000" stroke-width="2.0"/>
<circle cx="580.20" cy="770.80" r="3.7" fill="none" stroke="#000" stroke-width="2.0"/>
<circle cx="585.90" cy="773.90" r="3.7" fill="none" stroke="#000" stroke-width="2.0"/>
<circle cx="576.10" cy="777.90" r="3.7" fill="none" stroke="#000" stroke-width="2.0"/>
<circle cx="583.20" cy="781.60" r="3.7" fill="none" stroke="#000" stroke-width="2.0"/>
<circle cx="599.50" cy="782.60" r="3.7" fill="none" stroke="#000" stroke-width="2.0"/>
<circle cx="565.40" cy="786.20" r="3.7" fill="none" stroke="#000" stroke-width="2.0"/>
<circle cx="581.80" cy="790.70" r="3.7" fill="none" stroke="#000" stroke-width="2.0"/>
<circle cx="590.30" cy="820.70" r="3.7" fill="none" stroke="#000" stroke-width="2.0"/>
<circle cx="610.00" cy="823.20" r="3.7" fill="none" stroke="#000" stroke-width="2.0"/>
<circle cx="594.40" cy="829.20" r="3.7" fill="none" stroke="#000" stroke-width="2.0"/>
<circle cx="527.90" cy="827.60" r="3.7" fill="none" stroke="#000" stroke-width="2.0"/>
<circle cx="560.30" cy="835.90" r="3.7" fill="none" stroke="#000" stroke-width="2.0"/>
<circle cx="525.40" cy="842.80" r="3.7" fill="none" stroke="#000" stroke-width="2.0"/>
<circle cx="552.60" cy="843.00" r="3.7" fill="none" stroke="#000" stroke-width="2.0"/>
<circle cx="606.60" cy="845.10" r="3.7" fill="none" stroke="#000" stroke-width="2.0"/>
<circle cx="525.00" cy="855.90" r="3.7" fill="none" stroke="#000" stroke-width="2.0"/>
<circle cx="574.50" cy="770.40" r="3.7" fill="none" stroke="#999999" stroke-width="2.0"/>
<circle cx="552.80" cy="784.60" r="3.7" fill="none" stroke="#999999" stroke-width="2.0"/>
<circle cx="570.10" cy="793.10" r="3.7" fill="none" stroke="#999999" stroke-width="2.0"/>
<circle cx="543.10" cy="797.40" r="3.7" fill="none" stroke="#999999" stroke-width="2.0"/>
<circle cx="542.30" cy="800.20" r="3.7" fill="none" stroke="#999999" stroke-width="2.0"/>
<circle cx="560.50" cy="793.80" r="3.7" fill="none" stroke="#999999" stroke-width="2.0"/>
<circle cx="555.90" cy="794.80" r="3.7" fill="none" stroke="#999999" stroke-width="2.0"/>
<circle cx="559.90" cy="798.80" r="3.7" fill="none" stroke="#999999" stroke-width="2.0"/>
<circle cx="535.60" cy="824.20" r="3.7" fill="none" stroke="#999999" stroke-width="2.0"/>
<circle cx="509.80" cy="831.30" r="3.7" fill="none" stroke="#999999" stroke-width="2.0"/>
<circle cx="526.40" cy="836.80" r="3.7" fill="none" stroke="#999999" stroke-width="2.0"/>
<circle cx="557.50" cy="826.80" r="3.7" fill="none" stroke="#999999" stroke-width="2.0"/>
<circle cx="542.30" cy="833.70" r="3.7" fill="none" stroke="#999999" stroke-width="2.0"/>
<circle cx="540.20" cy="846.10" r="3.7" fill="none" stroke="#999999" stroke-width="2.0"/>
<circle cx="520.40" cy="853.00" r="3.7" fill="none" stroke="#999999" stroke-width="2.0"/>
<circle cx="525.00" cy="855.90" r="3.7" fill="none" stroke="#999999" stroke-width="2.0"/>
<line x1="495.90" y1="695.30" x2="495.90" y2="886.90" stroke="#000" stroke-width="2.6" />
<line x1="494.60" y1="885.60" x2="619.70" y2="885.60" stroke="#000" stroke-width="2.6" />
<line x1="488.60" y1="885.60" x2="495.90" y2="885.60" stroke="#000" stroke-width="2.6" />
<text x="488.10" y="890.70" font-size="14" font-weight="bold" text-anchor="end" >200</text>
<line x1="488.60" y1="822.60" x2="495.90" y2="822.60" stroke="#000" stroke-width="2.6" />
<text x="488.10" y="827.70" font-size="14" font-weight="bold" text-anchor="end" >400</text>
<line x1="488.60" y1="759.60" x2="495.90" y2="759.60" stroke="#000" stroke-width="2.6" />
<text x="488.10" y="764.70" font-size="14" font-weight="bold" text-anchor="end" >600</text>
<line x1="488.60" y1="696.60" x2="495.90" y2="696.60" stroke="#000" stroke-width="2.6" />
<text x="488.10" y="701.70" font-size="14" font-weight="bold" text-anchor="end" >800</text>
<line x1="495.90" y1="885.60" x2="495.90" y2="893.10" stroke="#000" stroke-width="2.6" />
<text x="495.90" y="906.20" font-size="14" font-weight="bold" text-anchor="middle" >90</text>
<line x1="537.00" y1="885.60" x2="537.00" y2="893.10" stroke="#000" stroke-width="2.6" />
<text x="537.00" y="906.20" font-size="14" font-weight="bold" text-anchor="middle" >100</text>
<line x1="577.80" y1="885.60" x2="577.80" y2="893.10" stroke="#000" stroke-width="2.6" />
<text x="577.80" y="906.20" font-size="14" font-weight="bold" text-anchor="middle" >110</text>
<line x1="618.40" y1="885.60" x2="618.40" y2="893.10" stroke="#000" stroke-width="2.6" />
<text x="618.40" y="906.20" font-size="14" font-weight="bold" text-anchor="middle" >120</text>
<text x="557.30" y="930.80" font-size="14.95" font-weight="bold" text-anchor="middle" >Norberg angle (α)</text>
<text x="457.80" y="791.80" font-size="15.5" font-weight="bold" text-anchor="middle" transform="rotate(-90 457.80 791.80)" >TMD (mg HA/cm<tspan font-size="10.2" dy="-5.3">3</tspan><tspan dy="5.3">)</tspan></text>
<circle cx="515.90" cy="698.90" r="3.85" fill="none" stroke="#999999" stroke-width="2.0"/>
<circle cx="515.90" cy="721.90" r="3.8" fill="none" stroke="#000" stroke-width="2.15"/>
<text x="537.30" y="704.10" font-size="15.85" font-weight="normal" text-anchor="start" >Unloaded</text>
<text x="537.30" y="727.30" font-size="15.85" font-weight="normal" text-anchor="start" >Contralateral</text>
</svg>
</body></html>
